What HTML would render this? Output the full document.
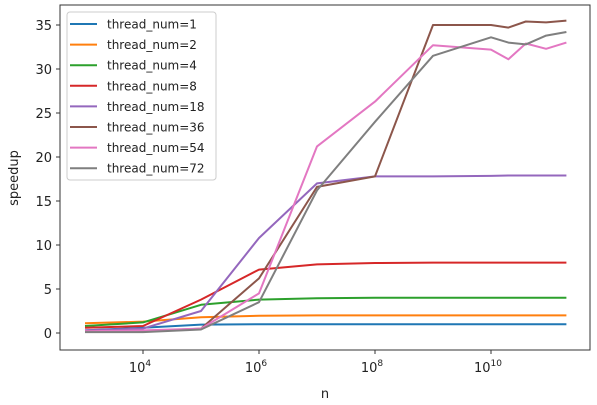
<!DOCTYPE html>
<html><head><meta charset="utf-8"><style>
body{margin:0;background:#fff;}
svg{display:block;font-family:"DejaVu Sans","Liberation Sans",sans-serif;}
</style></head><body>
<svg id="chart" width="597" height="405">
<rect x="60" y="5" width="530" height="345" fill="none" stroke="#333" stroke-width="1"/>
<g id="axes"></g><g id="lines"></g><g id="legend"></g>
<text x="325" y="398" font-size="13" text-anchor="middle" fill="#222">n</text>
<text transform="translate(18,178) rotate(-90)" font-size="13" text-anchor="middle" fill="#222">speedup</text>
</svg>
<script>
const logN = [3,4,5,6,7,8,9,10,10.3,10.6,10.95,11.3];
const seriesNames = ["thread_num=1","thread_num=2","thread_num=4","thread_num=8","thread_num=18","thread_num=36","thread_num=54","thread_num=72"];
const t1 = [0.3,0.6,0.95,1,1,1,1,1,1,1,1,1];
const t2 = [1.1,1.3,1.8,1.95,2,2,2,2,2,2,2,2];
const t4 = [0.8,1.2,3.2,3.8,3.95,4,4,4,4,4,4,4];
const t8 = [0.6,0.8,3.8,7.2,7.8,7.95,8,8,8,8,8,8];
const t18 = [0.3,0.5,2.5,10.8,17,17.8,17.8,17.85,17.9,17.9,17.9,17.9];
const t36 = [0.2,0.2,0.5,6.2,16.6,17.8,35,35,34.7,35.4,35.3,35.5];
const t54 = [0.2,0.3,0.5,4.5,21.2,26.3,32.7,32.2,31.1,32.9,32.3,33];
const t72 = [0.1,0.1,0.4,3.5,16.2,24,31.5,33.6,33,32.8,33.8,34.2];
const allSeries = [t1,t2,t4,t8,t18,t36,t54,t72];
const colors = ["#1f77b4","#ff7f0e","#2ca02c","#d62728","#9467bd","#8c564b","#e377c2","#7f7f7f"];
const yTicks = [0,5,10,15,20,25,30,35];
const xTicks = [4,6,8,10];
const NS="http://www.w3.org/2000/svg";
function xs(l){return 143+(l-4)*58;}
function ys(v){return 333-v*8.8;}
function mk(tag,attrs,parent){const e=document.createElementNS(NS,tag);for(const k in attrs)e.setAttribute(k,attrs[k]);parent.appendChild(e);return e;}
const axes=document.getElementById('axes');
yTicks.forEach(v=>{
  const t=mk('line',{x1:56,x2:60,y1:ys(v),y2:ys(v),stroke:'#333'},axes);
  
  
  const l=mk('text',{x:52,y:ys(v)+5,'font-size':13,'text-anchor':'end',fill:'#222'},axes);
  l.textContent=v;
  
  
});
xTicks.forEach(p=>{
  const t=mk('line',{x1:xs(p),x2:xs(p),y1:350,y2:354,stroke:'#333'},axes);
  
  
  const l=mk('text',{x:xs(p)-3,y:372,'font-size':13,'text-anchor':'middle',fill:'#222'},axes);
  
  
  l.appendChild(document.createTextNode('10'));
  const s=mk('tspan',{dy:-6,'font-size':9},l);s.textContent=p;
});
const lines=document.getElementById('lines');
allSeries.forEach((s,i)=>{
  const d=s.map((v,j)=>(j?'L':'M')+xs(logN[j]).toFixed(1)+','+ys(v).toFixed(1)).join(' ');
  const p=mk('path',{d:d,fill:'none',stroke:colors[i],'stroke-width':2,'stroke-linejoin':'round'},lines);
  
  
});
const lg=document.getElementById('legend');
const box=mk('rect',{x:67,y:12,width:149,height:168,rx:3,fill:'#fff','fill-opacity':0.8,stroke:'#ccc'},lg);


seriesNames.forEach((n,i)=>{
  const y=24+i*20.6;
  const ln=mk('line',{x1:70,x2:97,y1:y,y2:y,stroke:colors[i],'stroke-width':2},lg);
  
  
  const t=mk('text',{x:107,y:y+4.5,'font-size':12,fill:'#222'},lg);
  t.textContent=n;
  
  
});
</script>
</body></html>
